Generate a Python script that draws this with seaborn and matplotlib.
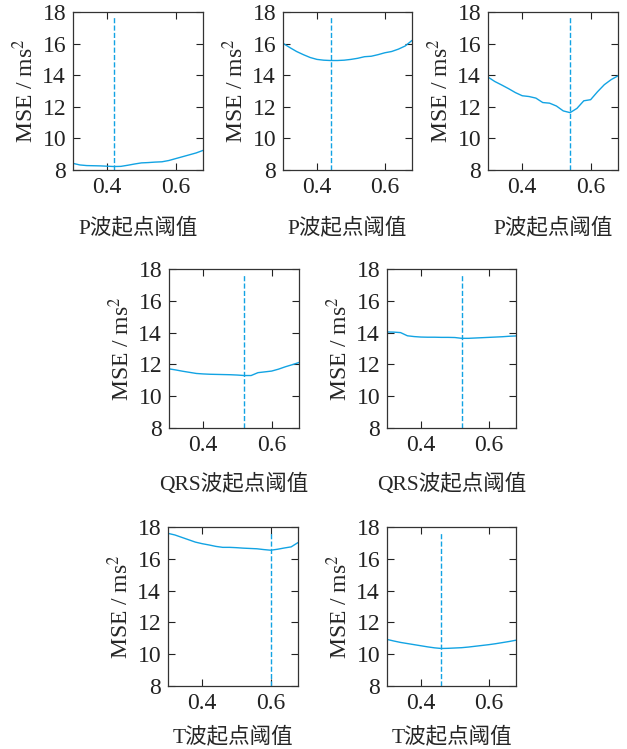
import numpy as np
import pandas as pd
import matplotlib
matplotlib.use("Agg")
import matplotlib.pyplot as plt
import seaborn as sns

# threshold grid shared by all panels
thresholds = [0.30, 0.32, 0.34, 0.36, 0.38, 0.40, 0.42, 0.44, 0.46, 0.48,
              0.50, 0.52, 0.54, 0.56, 0.58, 0.60, 0.62, 0.64, 0.66, 0.68]

mse_p1 = [8.42, 8.32, 8.28, 8.27, 8.26, 8.24, 8.22, 8.23, 8.30, 8.38,
          8.45, 8.47, 8.50, 8.52, 8.60, 8.72, 8.84, 8.96, 9.08, 9.24]
mse_p2 = [16.02, 15.75, 15.50, 15.30, 15.12, 15.00, 14.95, 14.93, 14.93, 14.95,
          15.00, 15.07, 15.17, 15.20, 15.30, 15.42, 15.50, 15.65, 15.85, 16.20]
mse_p3 = [13.88, 13.60, 13.38, 13.15, 12.90, 12.70, 12.65, 12.55, 12.27, 12.23,
          12.05, 11.74, 11.63, 11.90, 12.38, 12.45, 12.95, 13.40, 13.72, 13.96]
mse_qrs1 = [11.72, 11.65, 11.57, 11.50, 11.43, 11.40, 11.38, 11.37, 11.36, 11.35,
            11.33, 11.30, 11.30, 11.48, 11.53, 11.58, 11.70, 11.85, 11.98, 12.12]
mse_qrs2 = [14.04, 14.03, 14.00, 13.80, 13.75, 13.72, 13.71, 13.71, 13.70, 13.70,
            13.69, 13.64, 13.64, 13.66, 13.68, 13.70, 13.72, 13.74, 13.77, 13.79]
mse_t1 = [17.60, 17.50, 17.35, 17.20, 17.05, 16.95, 16.87, 16.78, 16.72, 16.72,
          16.70, 16.67, 16.65, 16.63, 16.58, 16.54, 16.60, 16.68, 16.75, 17.02]
mse_t2 = [10.93, 10.83, 10.74, 10.67, 10.60, 10.53, 10.46, 10.40, 10.36, 10.37,
          10.39, 10.41, 10.45, 10.50, 10.55, 10.60, 10.66, 10.73, 10.80, 10.88]

best_thr = [0.42, 0.44, 0.54, 0.52, 0.52, 0.60, 0.46]
xlabels = ["P波起点阈值", "P波起点阈值", "P波起点阈值",
           "QRS波起点阈值", "QRS波起点阈值", "T波起点阈值", "T波起点阈值"]
series = [mse_p1, mse_p2, mse_p3, mse_qrs1, mse_qrs2, mse_t1, mse_t2]

sns.set_theme(style="ticks")
fam = ["Liberation Serif", "Noto Sans CJK SC"]
plt.rcParams["font.family"] = fam
plt.rcParams["mathtext.fontset"] = "stix"
plt.rcParams["xtick.direction"] = "in"
plt.rcParams["ytick.direction"] = "in"

color = "#12a3e3"

fig = plt.figure(figsize=(6.27, 7.49), dpi=100)
W, H = 627, 749
# axes boxes in pixels: left, top, right, bottom
boxes = [(73, 12, 203, 170), (283, 12, 412, 170), (488, 12, 618, 170),
         (169, 269, 299, 428), (387, 269, 516, 428),
         (168, 527, 298, 686), (387, 527, 516, 686)]
# xlabel gap per panel (row 3 sits close to the figure edge)
pads = [14, 14, 14, 13, 13, 9, 9]

for (l, t, r, b), vals, thr, xl, pad in zip(boxes, series, best_thr, xlabels, pads):
    ax = fig.add_axes([l / W, 1 - b / H, (r - l) / W, (b - t) / H])
    df = pd.DataFrame({"thr": thresholds, "mse": vals})
    sns.lineplot(data=df, x="thr", y="mse", ax=ax, color=color, lw=1.0)
    ax.axvline(thr, ymin=0, ymax=0.97, color=color, ls="--", lw=1.0)
    ax.set_xlim(0.3, 0.68)
    ax.set_ylim(8, 18)
    ax.set_xticks([0.4, 0.6])
    ax.set_yticks([8, 10, 12, 14, 16, 18])
    ax.tick_params(top=True, right=True, length=5, width=0.8,
                   labelsize=17, colors="#222222", pad=5)
    for s in ax.spines.values():
        s.set_linewidth(0.9)
        s.set_color("#333333")
    ax.set_xlabel(xl, fontsize=15.5, labelpad=pad, family=fam)
    ax.set_ylabel("MSE / ms$^2$", fontsize=17, labelpad=3, family=fam)

fig.savefig("out.png", dpi=100)
